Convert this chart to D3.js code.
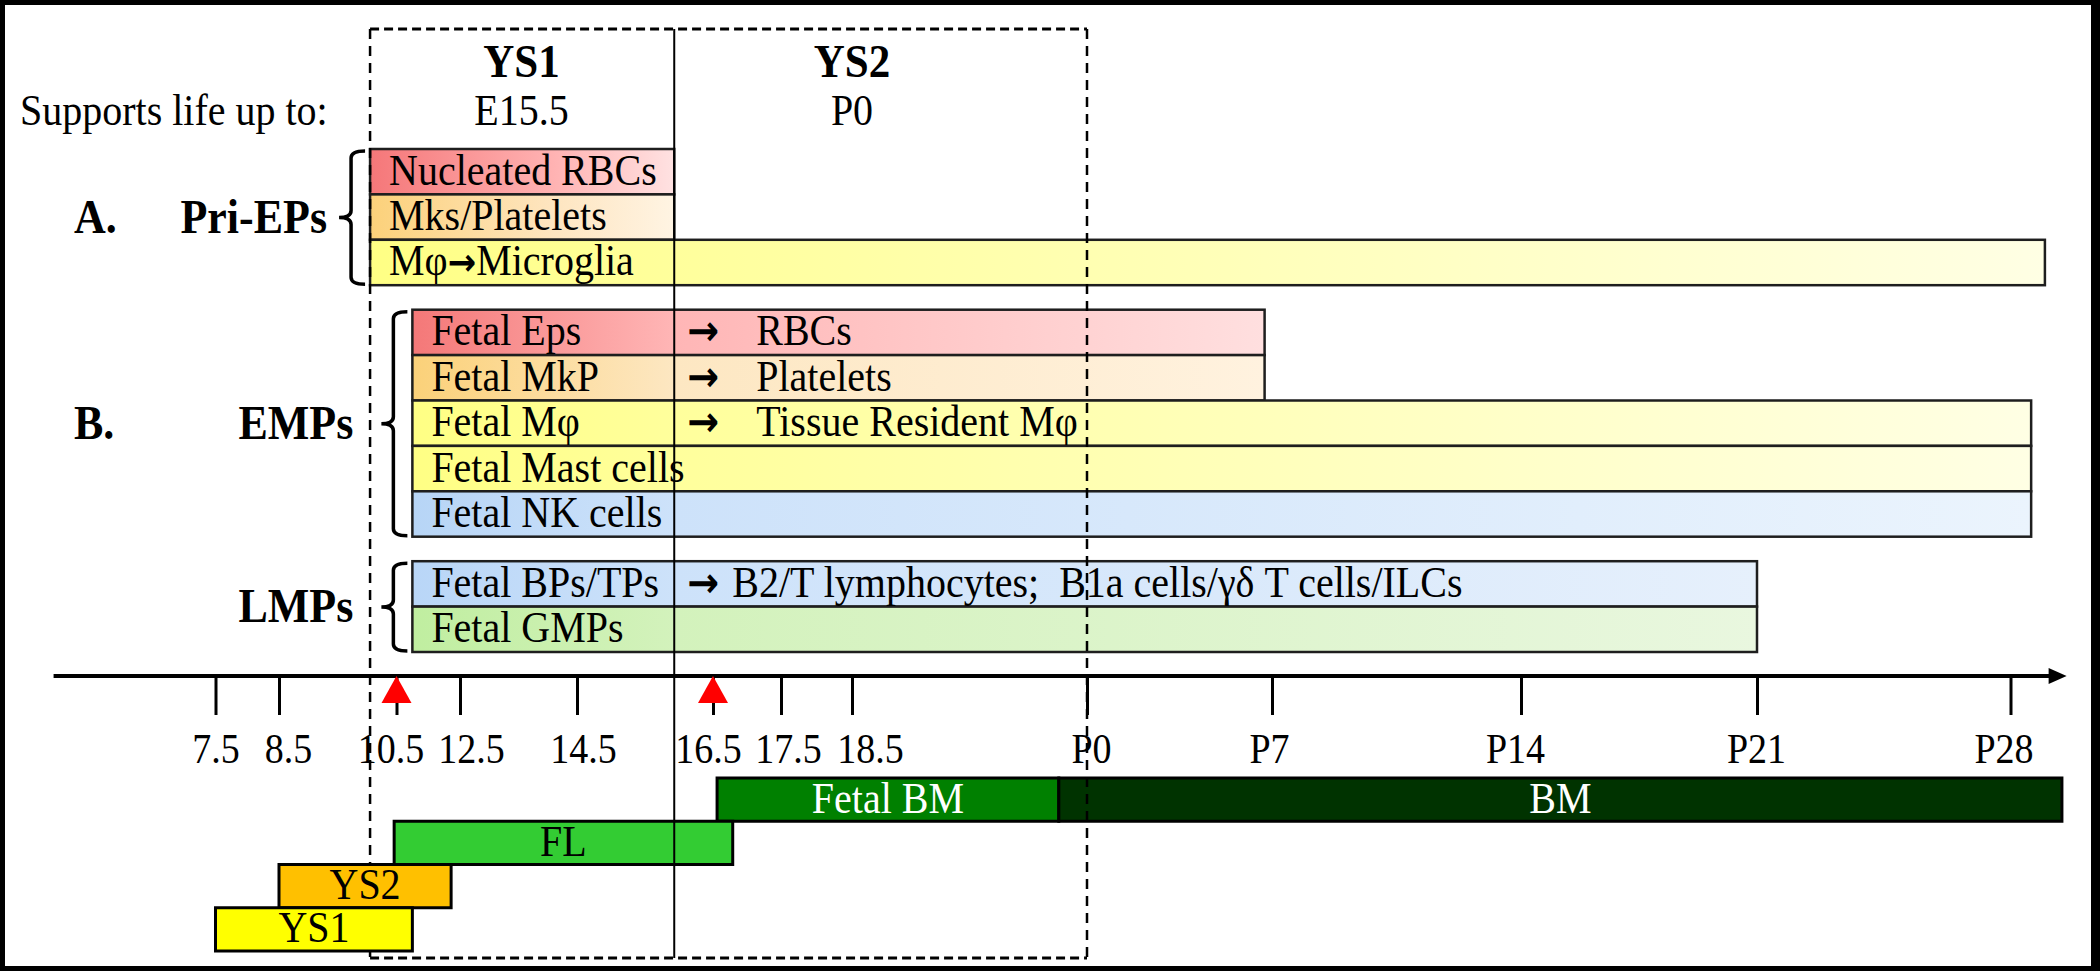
<!DOCTYPE html>
<html><head><meta charset="utf-8">
<script src="https://cdn.jsdelivr.net/npm/d3@7"></script>
<style>
html,body{margin:0;padding:0;background:#fff;}
svg{display:block;font-family:"Liberation Serif","Times New Roman",serif;}
text{white-space:pre;}
</style></head><body>
<svg id="chart" width="2100" height="971"></svg>
<script>
// ---------------- data ----------------
// developmental day (E = embryonic day; P0 = E19.5)
const tickDays   = [7.5, 8.5, 10.5, 12.5, 14.5, 16.5, 17.5, 18.5, 19.5, 26.5, 33.5, 40.5, 47.5];
const tickLabels = ["7.5","8.5","10.5","12.5","14.5","16.5","17.5","18.5","P0","P7","P14","P21","P28"];
const arrowDays  = [10.5, 16.5];
const axisExtent = [4.95, 49.05];

const windowStart = 10.05, windowSplit = 15.93, windowEnd = 19.5;
const headerNames    = ["YS1", "YS2"];
const headerSupports = ["E15.5", "P0"];
const headerDays     = [13.55, 18.5];
const supportsLabel  = "Supports life up to:";

const groupNames   = ["Pri-EPs", "EMPs", "LMPs"];
const groupLetters = ["A.", "B.", ""];

const cellLabels = ["Nucleated RBCs","Mks/Platelets","Mφ→Microglia",
                    "Fetal Eps","Fetal MkP","Fetal Mφ","Fetal Mast cells","Fetal NK cells",
                    "Fetal BPs/TPs","Fetal GMPs"];
const cellGroups = [0,0,0, 1,1,1,1,1, 2,2];
const cellStarts = [10.05,10.05,10.05, 11,11,11,11,11, 11,11];
const cellEnds   = [15.93,15.93,48.45, 26.22,26.22,48.07,48.07,48.07, 40.5,40.5];
const cellFates  = ["","","", "RBCs","Platelets","Tissue Resident Mφ","","",
                    "B2/T lymphocytes;  B1a cells/γδ T cells/ILCs",""];

const nicheNames  = ["Fetal BM","BM","FL","YS2","YS1"];
const nicheRows   = [0,0,1,2,3];
const nicheStarts = [16.56,19.38,10.46,8.5,7.5];
const nicheEnds   = [19.38,48.92,16.79,12.22,11.0];

// ---------------- styles / layout ----------------
const cellColorA = ["#f57779","#fcd17a","#ffff84","#f47878","#fbd179","#ffff84","#ffff84","#b7d5f6","#b9d6f7","#c0eea0"];
const cellColorB = ["#ffb2b2","#fee5c0","#ffff9c","#ffb6b6","#fde7c2","#ffff9c","#ffff9c","#cde2fa","#cde2fa","#d3f2bc"];
const cellColorC = ["#ffe2e2","#fff4e3","#ffffe4","#ffdfdf","#fff2df","#ffffe4","#ffffe4","#ebf4fd","#e6f0fc","#e9f7df"];
const nicheFill  = ["#008000","#003300","#33cc33","#ffc000","#ffff00"];
const nicheInk   = ["#ffffff","#ffffff","#000000","#000000","#000000"];
const axisStops  = [215.5, 279, 396.5, 460, 577, 713, 781, 852, 1087, 1272, 1521, 1757, 2010.5];
const tickShift  = [0, 9, -6, 11, 6, -5, 7, 18, 4, -3, -6, -1, -7];
const groupGap   = 0.54;
const labelGap   = [12, 28, 28];
const fateOffset = [0, 82, 58];
const FONT = '"Liberation Serif","Times New Roman",serif';
const ARROWFONT = '"DejaVu Sans",sans-serif';
const VSTRETCH = 1.1;

// ---------------- drawing ----------------
const W = 2100, H = 971;
const svg = d3.select("#chart");
svg.append("rect").attr("width", W).attr("height", H).attr("fill", "#000");
svg.append("rect").attr("x", 5).attr("y", 5).attr("width", W - 14).attr("height", H - 10).attr("fill", "#fff");

const x = d3.scaleLinear().domain(tickDays).range(axisStops);
const nRows = cellLabels.length + 2 * groupGap;
const yRow = d3.scaleLinear().domain([0, nRows]).range([149, 652]);
const rowH = yRow(1) - yRow(0);
const yN = d3.scaleBand().domain(d3.range(4)).range([778, 951]);
const axisY = 676;

// gradients
const defs = svg.append("defs");
cellLabels.forEach((l, i) => {
  const g = defs.append("linearGradient").attr("id", "cg" + i).attr("x1", 0).attr("x2", 1).attr("y1", 0).attr("y2", 0);
  const mid = (x(windowSplit) - x(cellStarts[i])) / (x(cellEnds[i]) - x(cellStarts[i]));
  g.append("stop").attr("offset", 0).attr("stop-color", cellColorA[i]);
  g.append("stop").attr("offset", Math.min(mid, 0.6)).attr("stop-color", cellColorB[i]);
  g.append("stop").attr("offset", 1).attr("stop-color", cellColorC[i]);
});

const cells = cellLabels.map((label, i) => ({
  label, i, g: cellGroups[i], s: cellStarts[i], e: cellEnds[i], fate: cellFates[i],
  slot: i + cellGroups[i] * groupGap
}));

// header
svg.append("text").attr("x", 20).attr("y", 125).attr("font-size", 40).text(supportsLabel);
headerNames.forEach((n, i) => {
  svg.append("text").attr("x", x(headerDays[i])).attr("y", 77).attr("text-anchor", "middle")
    .attr("font-size", 43).attr("font-weight", "bold").text(n);
  svg.append("text").attr("x", x(headerDays[i])).attr("y", 125).attr("text-anchor", "middle")
    .attr("font-size", 40).text(headerSupports[i]);
});

// cell bars
const gCells = svg.append("g");
gCells.selectAll("rect").data(cells).join("rect")
  .attr("x", d => x(d.s)).attr("y", d => yRow(d.slot))
  .attr("width", d => x(d.e) - x(d.s)).attr("height", rowH)
  .attr("fill", d => `url(#cg${d.i})`).attr("stroke", "#1e1e1e").attr("stroke-width", 2.5);

gCells.selectAll("text.lab").data(cells).join("text").attr("class", "lab")
  .attr("x", d => x(d.s) + 19).attr("y", d => yRow(d.slot) + rowH / 2 + 13)
  .attr("font-size", 40)
  .each(function (d) {
    const t = d3.select(this);
    d.label.split("→").forEach((p, k) => {
      if (k > 0) t.append("tspan").attr("font-family", ARROWFONT).attr("font-weight", "bold")
        .attr("font-size", 34).text("→");
      t.append("tspan").text(p);
    });
  });

const fc = cells.filter(d => d.fate);
gCells.selectAll("text.arr").data(fc).join("text").attr("class", "arr")
  .attr("x", x(windowSplit) + 13).attr("y", d => yRow(d.slot) + rowH / 2 + 13)
  .attr("font-size", 38).attr("font-family", ARROWFONT).attr("font-weight", "bold").text("→");
gCells.selectAll("text.fate").data(fc).join("text").attr("class", "fate")
  .attr("x", d => x(windowSplit) + fateOffset[d.g]).attr("y", d => yRow(d.slot) + rowH / 2 + 13)
  .attr("font-size", 40).attr("xml:space", "preserve").text(d => d.fate);

// braces + group labels
groupNames.forEach((name, g) => {
  const gc = cells.filter(d => d.g === g);
  const top = yRow(gc[0].slot) + 2, bot = yRow(gc[gc.length - 1].slot + 1) - 1;
  const xs = x(gc[0].s);
  const xl = xs - 19, xr = xs - 5, mid = (top + bot) / 2, r = 7, nib = 12;
  const p = `M${xr},${top} Q${xl},${top} ${xl},${top + r} L${xl},${mid - r} Q${xl},${mid} ${xl - nib},${mid}` +
            ` Q${xl},${mid} ${xl},${mid + r} L${xl},${bot - r} Q${xl},${bot} ${xr},${bot}`;
  svg.append("path").attr("d", p).attr("fill", "none").attr("stroke", "#000").attr("stroke-width", 3.5);
  svg.append("text").attr("x", xl - nib - labelGap[g]).attr("y", mid + 15).attr("text-anchor", "end")
    .attr("font-size", 44).attr("font-weight", "bold").text(name);
  if (groupLetters[g]) {
    svg.append("text").attr("x", 74).attr("y", mid + 15)
      .attr("font-size", 44).attr("font-weight", "bold").text(groupLetters[g]);
  }
});

// axis
const axis = d3.axisBottom(x).tickValues(tickDays).tickFormat((d, i) => tickLabels[i])
  .tickSize(39).tickPadding(20);
const ga = svg.append("g").attr("transform", `translate(0,${axisY})`).call(axis)
  .attr("font-family", FONT).attr("font-size", null);
ga.select(".domain").remove();
ga.selectAll(".tick line").attr("stroke", "#000").attr("stroke-width", 3);
ga.selectAll(".tick text").attr("fill", "#000").attr("font-size", 38)
  .attr("y", null).attr("dy", null).attr("class", "tickText")
  .attr("transform", (d, i) => `translate(${tickShift[i]},${763 - axisY}) scale(1,${VSTRETCH})`);
const xa0 = x(axisExtent[0]), xa1 = x(axisExtent[1]);
svg.append("line").attr("x1", xa0).attr("x2", xa1 - 14).attr("y1", axisY).attr("y2", axisY)
  .attr("stroke", "#000").attr("stroke-width", 4);
svg.append("path").attr("d", `M${xa1 - 18},${axisY - 8} L${xa1},${axisY} L${xa1 - 18},${axisY + 8} Z`).attr("fill", "#000");
svg.selectAll("path.tri").data(arrowDays).join("path").attr("class", "tri")
  .attr("d", d => `M${x(d)},${axisY} L${x(d) + 15},${axisY + 27} L${x(d) - 15},${axisY + 27} Z`)
  .attr("fill", "#ff0000");

// niches
const niches = nicheNames.map((n, i) => ({ n, i, row: nicheRows[i], s: nicheStarts[i], e: nicheEnds[i] }));
function drawNiches(sel, data) {
  sel.selectAll("rect").data(data).join("rect")
    .attr("x", d => x(d.s)).attr("y", d => yN(d.row))
    .attr("width", d => x(d.e) - x(d.s)).attr("height", yN.bandwidth())
    .attr("fill", d => nicheFill[d.i]).attr("stroke", "#000").attr("stroke-width", 3);
  sel.selectAll("text").data(data).join("text")
    .attr("x", d => (x(d.s) + x(d.e)) / 2).attr("y", d => yN(d.row) + yN.bandwidth() / 2 + 13)
    .attr("text-anchor", "middle").attr("font-size", 40).attr("fill", d => nicheInk[d.i]).text(d => d.n);
}
drawNiches(svg.append("g"), niches.filter(d => !d.n.startsWith("YS")));

// dashed window + split line
const wx0 = x(windowStart), wx1 = x(windowEnd), ws = x(windowSplit);
const boxTop = 29, boxBot = 958;
const box = svg.append("g").attr("stroke", "#000").attr("fill", "none");
box.append("line").attr("x1", wx0).attr("x2", wx1).attr("y1", boxTop).attr("y2", boxTop).attr("stroke-width", 3).attr("stroke-dasharray", "9,5");
box.append("line").attr("x1", wx0).attr("x2", wx1).attr("y1", boxBot).attr("y2", boxBot).attr("stroke-width", 3).attr("stroke-dasharray", "9,5");
box.append("line").attr("x1", wx0).attr("x2", wx0).attr("y1", boxTop).attr("y2", boxBot).attr("stroke-width", 2.5).attr("stroke-dasharray", "10,7");
box.append("line").attr("x1", wx1).attr("x2", wx1).attr("y1", boxTop).attr("y2", boxBot).attr("stroke-width", 2.5).attr("stroke-dasharray", "10,7");
box.append("line").attr("x1", ws).attr("x2", ws).attr("y1", boxTop).attr("y2", boxBot).attr("stroke-width", 2);

drawNiches(svg.append("g"), niches.filter(d => d.n.startsWith("YS")));

// vertical stretch of text to match the tall serif lettering of the original
svg.selectAll("text:not(.tickText)").each(function () {
  const t = d3.select(this);
  const xx = +t.attr("x") || 0, yy = +t.attr("y") || 0;
  t.attr("x", null).attr("y", null).attr("transform", `translate(${xx},${yy}) scale(1,${VSTRETCH})`);
});
</script>
</body></html>
